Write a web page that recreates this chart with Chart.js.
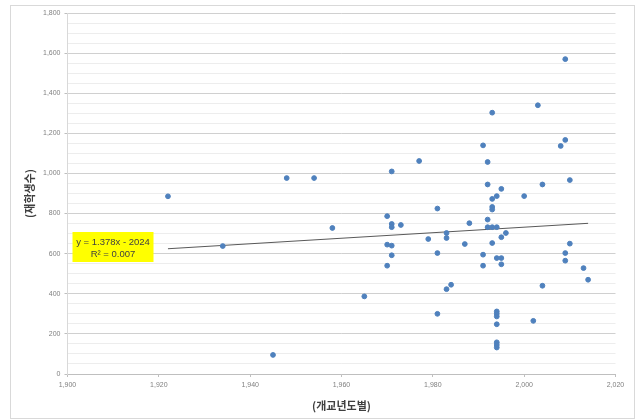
<!DOCTYPE html>
<html>
<head>
<meta charset="utf-8">
<script src="https://cdn.jsdelivr.net/npm/chart.js@4"></script>
<style>
  html, body { margin: 0; padding: 0; background: #fff; overflow: hidden; }
  #wrap { position: relative; width: 639px; height: 419px; }
</style>
</head>
<body>
<div id="wrap"><canvas id="c"></canvas></div>
<script>
// ---- data ----
const foundingYears = [
  1922, 1934, 1945, 1948, 1954, 1958, 1965, 1970, 1970, 1970,
  1971, 1971, 1971, 1971, 1971, 1973, 1977, 1979, 1981, 1981,
  1981, 1983, 1983, 1983, 1984, 1987, 1988, 1991, 1991, 1991,
  1992, 1992, 1992, 1992, 1993, 1993, 1993, 1993, 1993, 1993,
  1994, 1994, 1994, 1994, 1994, 1994, 1994, 1994, 1994, 1994,
  1995, 1995, 1995, 1995, 1996, 2000, 2002, 2003, 2004, 2004,
  2008, 2009, 2009, 2009, 2009, 2010, 2010, 2013, 2014
];
const studentCounts = [
  886, 638, 95, 977, 977, 728, 387, 787, 645, 540,
  1010, 748, 732, 640, 592, 743, 1062, 673, 825, 603,
  300, 703, 678, 423, 445, 648, 752, 1140, 595, 540,
  1057, 945, 770, 732, 1303, 873, 833, 820, 732, 653,
  887, 732, 578, 312, 300, 287, 248, 158, 145, 132,
  923, 682, 578, 547, 703, 887, 265, 1340, 945, 440,
  1137, 1570, 1167, 603, 565, 967, 650, 528, 470
];
const trendSlope = 1.378;
const trendIntercept = -2024;
const trendYears = [1922, 2014];
const trendLabel = ['y = 1.378x - 2024', 'R\u00B2 = 0.007'];
const xTitle = '(개교년도별)';
const yTitle = '(재학생수)';
const xRange = [1900, 2020];
const yRange = [0, 1800];

const points = foundingYears.map((x, i) => ({ x: x, y: studentCounts[i] }));
const trendPoints = trendYears.map(x => ({ x: x, y: trendSlope * x + trendIntercept }));

const framePlugin = {
  id: 'frame',
  beforeDraw(chart) {
    const ctx = chart.ctx;
    ctx.save();
    ctx.fillStyle = '#ffffff';
    ctx.fillRect(0, 0, chart.width, chart.height);
    ctx.strokeStyle = '#d9d9d9';
    ctx.lineWidth = 1;
    ctx.strokeRect(10.5, 5.5, 624, 413);
    ctx.restore();
  }
};

const labelPlugin = {
  id: 'trendLabel',
  afterDatasetsDraw(chart) {
    const ctx = chart.ctx;
    const a = chart.chartArea;
    const bx = a.left + 5, by = 232, bw = 81, bh = 30;
    ctx.save();
    ctx.fillStyle = '#ffff00';
    ctx.fillRect(bx, by, bw, bh);
    ctx.fillStyle = '#404040';
    ctx.font = '9.5px "Liberation Sans", Arial, sans-serif';
    ctx.textAlign = 'center';
    ctx.textBaseline = 'middle';
    ctx.fillText(trendLabel[0], bx + bw / 2, by + 10.5);
    ctx.fillText(trendLabel[1], bx + bw / 2, by + 22);
    ctx.restore();
  }
};

const tickFont = { family: '"Liberation Sans", Arial, sans-serif', size: 7 };
const titleFont = { family: '"Noto Sans CJK KR", sans-serif', size: 11, weight: 'bold' };

new Chart(document.getElementById('c'), {
  type: 'scatter',
  data: {
    datasets: [
      {
        label: '재학생수',
        data: points,
        backgroundColor: '#4f81bd',
        borderColor: '#4f81bd',
        pointRadius: 2.4,
        pointHoverRadius: 2.4,
        order: 1
      },
      {
        type: 'line',
        label: 'trend',
        data: trendPoints,
        borderColor: '#595959',
        borderWidth: 1,
        pointRadius: 0,
        fill: false,
        order: 2
      }
    ]
  },
  options: {
    responsive: true,
    maintainAspectRatio: false,
    animation: false,
    events: [],
    layout: { padding: { top: 13, right: 23.5, bottom: 0, left: 0 } },
    plugins: {
      legend: { display: false },
      tooltip: { enabled: false }
    },
    scales: {
      x: {
        type: 'linear',
        min: xRange[0],
        max: xRange[1],
        ticks: {
          stepSize: 20,
          font: tickFont,
          color: '#808080',
          padding: 4,
          maxRotation: 0,
          callback: v => v.toLocaleString('en-US')
        },
        grid: {
          drawOnChartArea: false,
          drawTicks: true,
          tickLength: 3,
          color: '#bfbfbf'
        },
        border: { display: true, color: '#bfbfbf' },
        title: {
          display: true,
          text: xTitle,
          font: titleFont,
          color: '#404040',
          padding: { top: 0, bottom: 7 }
        },
        afterFit: s => { s.height = 45; }
      },
      y: {
        min: yRange[0],
        max: yRange[1],
        ticks: {
          stepSize: 50,
          font: tickFont,
          color: '#808080',
          padding: 4,
          autoSkip: false,
          callback: v => (v % 200 === 0 ? v.toLocaleString('en-US') : '')
        },
        grid: {
          color: c => (c.tick && c.tick.value % 200 === 0 ? '#d0d0d0' : '#ededed'),
          tickColor: c => (c.tick && c.tick.value % 200 === 0 ? '#bfbfbf' : 'rgba(0,0,0,0)'),
          tickLength: 3,
          lineWidth: 1
        },
        border: { display: true, color: '#d9d9d9' },
        title: {
          display: true,
          text: yTitle,
          font: titleFont,
          color: '#404040',
          padding: { top: 23, bottom: 0 }
        },
        afterFit: s => { s.width = 67.5; }
      }
    }
  },
  plugins: [framePlugin, labelPlugin]
});
</script>
</body>
</html>
